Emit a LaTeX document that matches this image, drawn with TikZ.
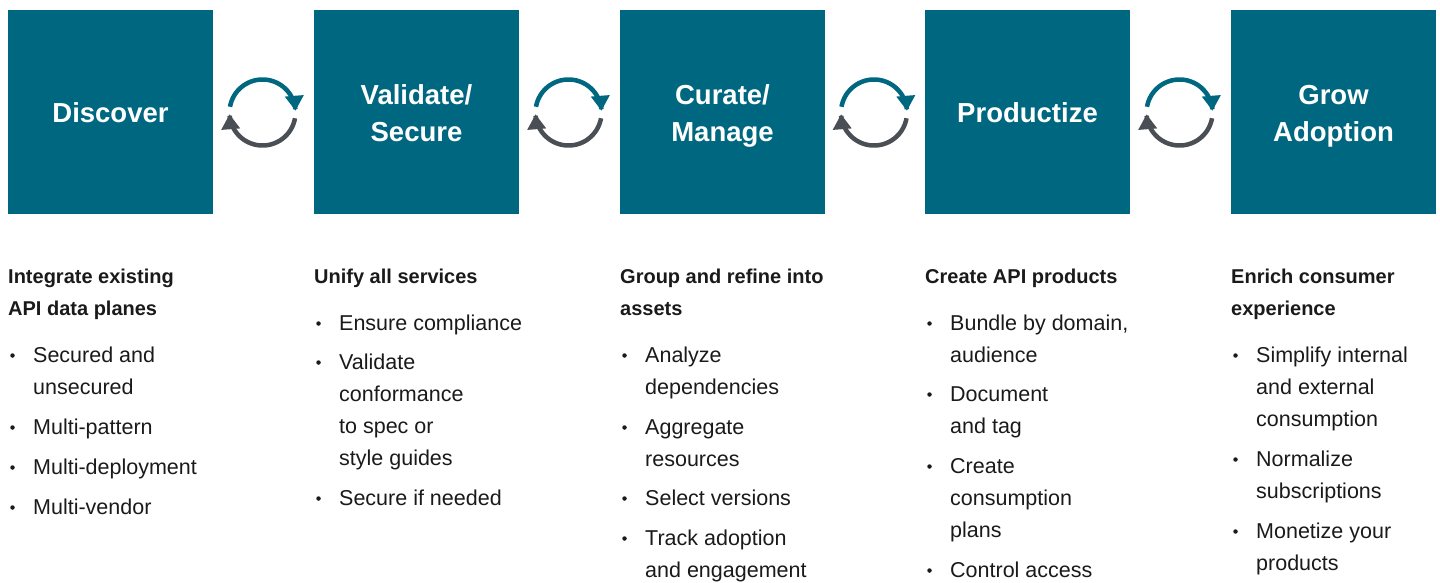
\documentclass[tikz,border=0pt]{standalone}
\usepackage{fontspec}
\setmainfont{Liberation Sans}
\usetikzlibrary{arrows.meta}
\definecolor{tealc}{HTML}{006780}
\definecolor{grayc}{HTML}{4A4F55}
\definecolor{textc}{HTML}{1A1A1A}
\tikzset{
 stage/.style={fill=tealc, minimum width=205pt, minimum height=204pt, inner sep=0pt},
 title/.style={anchor=base, inner sep=0pt, text=white, font=\bfseries\fontsize{27.5}{37}\selectfont, align=center},
 head/.style={anchor=base west, inner sep=0pt, align=left, text=textc, font=\bfseries\fontsize{20}{32}\selectfont},
 body/.style={anchor=base west, inner sep=0pt, align=left, text=textc, font=\fontsize{21.5}{32}\selectfont},
 dot/.style={circle, fill=textc, inner sep=0pt, minimum size=4.5pt},
 cyc/.style={line width=4.5pt, -{Triangle[length=15pt,width=18pt]}},
}
% name, column x, first baseline, number of lines, text
\newcommand\stepitem[5]{%
  \node[dot] (#1d) at ({#2+4.5},{#3-6.5}) {};
  \node[body] (#1) at ({#2+25},{#3+32*(#4-1)}) {#5};
}
\begin{document}
\begin{tikzpicture}[x=1pt,y=-1pt]
\useasboundingbox (0,0) rectangle (1440,583);
\node[stage] (s1) at (110.5,112) {};
\node[stage] (s2) at (416.5,112) {};
\node[stage] (s3) at (722.5,112) {};
\node[stage] (s4) at (1027.5,112) {};
\node[stage] (s5) at (1333.5,112) {};
\node[title] (t1) at (110.5,122.5) {Discover};
\node[title] (t2) at (416.5,142) {Validate/\\Secure};
\node[title] (t3) at (722.5,142) {Curate/\\Manage};
\node[title] (t4) at (1027.5,122.5) {Productize};
\node[title] (t5) at (1333.5,142) {Grow\\Adoption};

\foreach \cx in {262.5,568.5,874,1179.5}{
  \draw[cyc, tealc] plot[domain=170:3, samples=60, variable=\t] ({\cx+33*cos(\t)},{112.5-33*sin(\t)});
  \draw[cyc, grayc] plot[domain=-10:-177, samples=60, variable=\t] ({\cx+33*cos(\t)},{112.5-33*sin(\t)});
}

% column 1
\node[head] (h1) at (8,315) {Integrate existing\\API data planes};
\stepitem{a1}{8}{362}{2}{Secured and\\unsecured}
\stepitem{a2}{8}{434}{1}{Multi-pattern}
\stepitem{a3}{8}{474}{1}{Multi-deployment}
\stepitem{a4}{8}{514}{1}{Multi-vendor}
% column 2
\node[head] (h2) at (314,283) {Unify all services};
\stepitem{b1}{314}{330}{1}{Ensure compliance}
\stepitem{b2}{314}{369}{4}{Validate\\conformance\\to spec or\\style guides}
\stepitem{b3}{314}{505}{1}{Secure if needed}
% column 3
\node[head] (h3) at (620,315) {Group and refine into\\assets};
\stepitem{c1}{620}{362}{2}{Analyze\\dependencies}
\stepitem{c2}{620}{434}{2}{Aggregate\\resources}
\stepitem{c3}{620}{505}{1}{Select versions}
\stepitem{c4}{620}{545}{2}{Track adoption\\and engagement}
% column 4
\node[head] (h4) at (925,283) {Create API products};
\stepitem{d1}{925}{330}{2}{Bundle by domain,\\audience}
\stepitem{d2}{925}{401}{2}{Document\\and tag}
\stepitem{d3}{925}{473}{3}{Create\\consumption\\plans}
\stepitem{d4}{925}{577}{1}{Control access}
% column 5
\node[head] (h5) at (1231,315) {Enrich consumer\\experience};
\stepitem{e1}{1231}{362}{3}{Simplify internal\\and external\\consumption}
\stepitem{e2}{1231}{466}{2}{Normalize\\subscriptions}
\stepitem{e3}{1231}{538}{2}{Monetize your\\products}
\end{tikzpicture}
\end{document}
